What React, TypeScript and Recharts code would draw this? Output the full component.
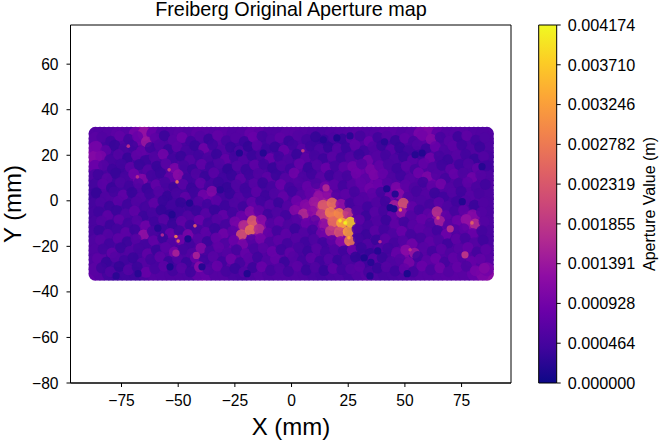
import React from 'react';
import { ComposedChart, Scatter, XAxis, YAxis, ReferenceArea } from 'recharts';

const W = 660;
const H = 441;
// grid and spot values are in units of 1e-5 m

const xTicks = [-75, -50, -25, 0, 25, 50, 75];
const yTicks = [-80, -60, -40, -20, 0, 20, 40, 60];
const barTicks = [0, 0.000464, 0.000928, 0.001391, 0.001855, 0.002319, 0.002782, 0.003246, 0.00371, 0.004174];
const plasmaStops = ['#0d0887', '#41049d', '#6a00a8', '#8f0da4', '#b12a90', '#cc4778', '#e16462', '#f2844b', '#fca636', '#fcce25', '#f0f921'];

const gridX = [-86.5, -82.6, -78.7, -74.7, -70.8, -66.9, -63, -59, -55.1, -51.2, -47.3, -43.3, -39.4, -35.5, -31.6, -27.6, -23.7, -19.8, -15.9, -11.9, -8, -4.1, -0.1, 3.8, 7.7, 11.6, 15.6, 19.5, 23.4, 27.3, 31.3, 35.2, 39.1, 43, 47, 50.9, 54.8, 58.7, 62.7, 66.6, 70.5, 74.4, 78.4, 82.3, 86.2];
const gridY = [29.4, 25.3, 21.2, 17.1, 13, 8.9, 4.8, 0.7, -3.4, -7.5, -11.6, -15.7, -19.8, -23.9, -28, -32];

const gridV = [
  [62, 58, 66, 72, 60, 128, 96, 64, 58, 70, 62, 66, 74, 60, 72, 64, 58, 68, 84, 60, 56, 62, 70, 64, 60, 58, 52, 66, 56, 70, 62, 58, 66, 72, 64, 60, 74, 120, 88, 66, 60, 68, 62, 58, 60],
  [70, 46, 52, 60, 64, 88, 58, 48, 54, 62, 50, 60, 56, 48, 66, 54, 44, 50, 58, 46, 60, 54, 50, 58, 46, 40, 44, 38, 52, 56, 60, 52, 58, 48, 64, 56, 60, 68, 62, 54, 58, 62, 56, 50, 54],
  [118, 60, 44, 38, 50, 56, 66, 52, 44, 50, 58, 46, 54, 62, 48, 56, 40, 52, 46, 44, 54, 48, 60, 52, 58, 46, 54, 50, 44, 52, 46, 56, 62, 50, 44, 48, 40, 54, 60, 72, 58, 64, 50, 60, 56],
  [104, 56, 50, 44, 58, 48, 42, 56, 50, 44, 60, 52, 48, 40, 56, 62, 50, 44, 54, 48, 42, 60, 46, 54, 48, 56, 62, 50, 58, 64, 72, 60, 56, 52, 48, 58, 54, 60, 56, 50, 66, 56, 48, 44, 46],
  [60, 48, 54, 40, 46, 52, 56, 44, 60, 76, 48, 54, 42, 50, 46, 38, 52, 60, 46, 54, 48, 44, 52, 66, 50, 56, 60, 52, 62, 70, 84, 72, 64, 58, 54, 60, 66, 58, 64, 60, 54, 50, 56, 52, 50],
  [50, 56, 42, 50, 60, 92, 58, 46, 66, 88, 52, 44, 56, 48, 54, 44, 50, 46, 58, 52, 66, 50, 58, 72, 56, 60, 64, 58, 54, 66, 82, 86, 70, 66, 58, 52, 60, 70, 88, 64, 58, 62, 72, 56, 60],
  [44, 60, 52, 44, 50, 56, 48, 54, 50, 62, 46, 58, 50, 42, 40, 52, 60, 48, 54, 46, 52, 64, 60, 54, 66, 100, 80, 62, 58, 64, 72, 76, 80, 74, 90, 70, 62, 58, 66, 60, 64, 56, 62, 58, 54],
  [40, 48, 56, 50, 44, 52, 46, 58, 50, 44, 54, 42, 62, 80, 52, 48, 44, 54, 46, 58, 50, 60, 54, 62, 78, 130, 150, 100, 60, 54, 62, 66, 58, 60, 70, 64, 56, 62, 52, 46, 50, 44, 54, 60, 56],
  [52, 46, 60, 44, 54, 48, 64, 50, 42, 40, 46, 52, 48, 58, 44, 52, 60, 50, 72, 56, 48, 54, 62, 100, 130, 170, 190, 150, 66, 50, 58, 52, 60, 56, 100, 90, 60, 54, 66, 60, 54, 58, 50, 44, 52],
  [46, 56, 50, 62, 48, 56, 44, 52, 38, 36, 44, 60, 50, 46, 62, 54, 50, 78, 100, 72, 56, 60, 58, 72, 90, 170, 210, 230, 200, 70, 56, 60, 54, 62, 58, 70, 64, 60, 110, 96, 62, 70, 110, 100, 58],
  [54, 44, 52, 48, 64, 72, 54, 46, 44, 50, 66, 48, 56, 70, 50, 62, 90, 150, 170, 110, 62, 54, 64, 56, 60, 92, 170, 200, 190, 60, 50, 54, 60, 56, 66, 54, 58, 62, 56, 72, 66, 84, 120, 84, 56],
  [48, 58, 46, 60, 54, 80, 60, 50, 46, 70, 44, 72, 58, 48, 66, 56, 72, 100, 120, 86, 58, 66, 54, 62, 50, 58, 84, 120, 110, 62, 48, 56, 50, 58, 52, 60, 54, 64, 60, 58, 54, 60, 66, 60, 50],
  [62, 50, 56, 44, 66, 58, 50, 56, 62, 48, 56, 52, 64, 60, 72, 82, 64, 56, 60, 70, 64, 58, 60, 54, 48, 56, 52, 60, 76, 56, 52, 48, 54, 64, 60, 74, 66, 58, 62, 56, 60, 54, 58, 64, 56],
  [56, 66, 48, 54, 60, 46, 62, 44, 58, 72, 54, 64, 50, 58, 54, 62, 70, 58, 66, 60, 54, 66, 56, 48, 54, 62, 58, 50, 62, 44, 42, 46, 54, 50, 86, 100, 60, 64, 54, 60, 66, 56, 60, 62, 58],
  [60, 50, 44, 62, 52, 44, 60, 50, 54, 46, 50, 56, 80, 52, 58, 66, 60, 70, 62, 54, 60, 52, 62, 58, 50, 56, 54, 48, 56, 50, 44, 48, 56, 60, 58, 64, 56, 60, 66, 70, 62, 66, 68, 62, 70],
  [74, 56, 38, 46, 44, 40, 66, 58, 62, 54, 60, 52, 96, 60, 66, 58, 48, 52, 66, 60, 56, 64, 58, 62, 54, 50, 46, 60, 52, 46, 72, 60, 52, 48, 56, 58, 62, 66, 60, 72, 66, 70, 64, 92, 120],
];

const fineX = [-84.5, -80.6, -76.7, -72.7, -68.8, -64.9, -61, -57, -53.1, -49.2, -45.3, -41.3, -37.4, -33.5, -29.6, -25.6, -21.7, -17.8, -13.9, -9.9, -6, -2.1, 1.9, 5.8, 9.7, 13.6, 17.6, 21.5, 25.4, 29.3, 33.3, 37.2, 41.1, 45, 49, 52.9, 56.8, 60.7, 64.7, 68.6, 72.5, 76.4, 80.4, 84.3];
const fineY = [27.3, 23.2, 19.1, 15, 10.9, 6.8, 2.8, -1.3, -5.4, -9.5, -13.6, -17.7, -21.8, -25.9, -30];
const fineRowShift = [0.9, -1.3, 0.4, 1.6, -0.8, 1.2, -1.6, 0.3, -0.5, 0.6, -0.4, 0.2, 1.4, -1.1, 0.7];
const fineColShift = [0.6, -1.1, 1.2, -0.3, 0.9, -1.4, 0.2, 1.3, -0.7, 0.5, -1.2, 1, -0.2, 1.4, -0.9, 0.3, -1.3, 0.7, 1.1, -0.5, 0.4, -1, 1.3, -0.4, 0.8, -0.6, 0.3, -0.2, 0.1, 1.2, -1.3, 0.5, 1, -0.8, 0.2, -1.2, 1.4, -0.3, 0.6, -1.1, 0.9, 1.3, -0.7, 0.4];

const fineV = [
  [58, 40, 74, 44, 82, 140, 70, 36, 66, 88, 42, 60, 34, 76, 48, 62, 38, 82, 44, 56, 72, 36, 60, 46, 30, 38, 52, 34, 70, 46, 84, 40, 62, 34, 74, 50, 92, 110, 48, 66, 38, 72, 44, 56],
  [92, 70, 34, 52, 44, 76, 40, 58, 36, 70, 48, 34, 90, 42, 60, 36, 56, 30, 68, 42, 34, 80, 44, 66, 40, 56, 32, 64, 38, 74, 44, 58, 36, 68, 34, 46, 60, 38, 82, 52, 70, 40, 58, 36],
  [100, 46, 62, 32, 72, 40, 58, 94, 44, 34, 62, 42, 52, 34, 74, 44, 60, 36, 50, 84, 42, 56, 34, 70, 46, 38, 66, 40, 58, 36, 92, 62, 44, 56, 36, 68, 42, 90, 46, 36, 64, 44, 34, 60],
  [62, 38, 44, 70, 36, 60, 34, 66, 100, 48, 36, 74, 40, 56, 30, 62, 36, 72, 44, 34, 58, 42, 78, 36, 60, 84, 46, 72, 90, 60, 100, 74, 52, 40, 70, 46, 76, 56, 40, 72, 42, 58, 74, 42],
  [40, 66, 34, 48, 88, 110, 44, 36, 72, 120, 42, 58, 34, 68, 42, 34, 72, 40, 58, 70, 36, 62, 90, 52, 40, 66, 38, 56, 46, 88, 66, 100, 78, 54, 42, 64, 88, 104, 60, 44, 78, 54, 90, 62],
  [68, 34, 54, 40, 60, 36, 76, 48, 38, 66, 34, 74, 48, 36, 30, 56, 40, 64, 36, 48, 84, 44, 58, 78, 54, 90, 70, 44, 62, 74, 90, 84, 62, 100, 70, 54, 40, 72, 94, 58, 46, 70, 52, 40],
  [32, 58, 44, 74, 34, 62, 40, 60, 32, 50, 72, 40, 90, 110, 46, 34, 62, 42, 70, 38, 56, 76, 42, 62, 76, 130, 120, 60, 70, 46, 60, 70, 44, 90, 120, 60, 46, 60, 36, 42, 60, 40, 64, 50],
  [56, 36, 68, 40, 58, 44, 72, 34, 44, 30, 36, 58, 42, 68, 38, 56, 40, 74, 42, 64, 36, 60, 88, 110, 140, 240, 270, 130, 46, 60, 42, 58, 40, 150, 230, 74, 56, 46, 70, 56, 40, 60, 36, 58],
  [40, 70, 36, 56, 72, 36, 48, 30, 28, 40, 58, 36, 64, 34, 74, 44, 82, 110, 72, 40, 56, 42, 110, 170, 120, 190, 290, 300, 190, 58, 36, 64, 46, 76, 130, 60, 44, 70, 180, 72, 46, 72, 110, 60],
  [62, 38, 72, 44, 60, 90, 40, 66, 34, 72, 40, 84, 44, 62, 46, 96, 170, 240, 120, 60, 76, 54, 62, 84, 70, 120, 260, 340, 380, 70, 46, 58, 36, 72, 44, 64, 80, 54, 150, 66, 86, 130, 170, 60],
  [36, 60, 44, 70, 38, 130, 50, 42, 84, 40, 100, 48, 70, 36, 90, 70, 230, 270, 170, 76, 44, 70, 36, 60, 44, 90, 190, 230, 330, 56, 36, 66, 44, 56, 84, 46, 70, 60, 42, 88, 60, 70, 84, 44],
  [66, 42, 70, 36, 60, 44, 74, 36, 60, 90, 44, 64, 36, 76, 54, 84, 100, 62, 96, 54, 70, 44, 62, 40, 56, 42, 70, 120, 280, 44, 58, 36, 70, 46, 60, 90, 46, 72, 56, 40, 72, 46, 60, 40],
  [44, 76, 36, 58, 46, 72, 36, 68, 100, 46, 58, 110, 48, 72, 60, 46, 78, 50, 66, 84, 40, 72, 50, 36, 66, 44, 58, 40, 88, 36, 32, 60, 44, 74, 120, 140, 64, 46, 70, 54, 66, 80, 46, 70],
  [70, 34, 60, 40, 34, 62, 44, 72, 36, 60, 36, 84, 42, 66, 42, 90, 44, 70, 40, 60, 78, 36, 62, 44, 72, 40, 64, 36, 52, 30, 40, 66, 36, 56, 60, 100, 44, 70, 86, 46, 74, 60, 80, 76],
  [40, 58, 30, 62, 36, 80, 48, 70, 44, 66, 40, 120, 56, 80, 46, 36, 62, 38, 84, 46, 60, 44, 70, 36, 58, 34, 76, 44, 64, 70, 46, 34, 62, 40, 76, 46, 84, 52, 90, 60, 78, 54, 96, 110],
];

const rimTopV = [60, 62, 68, 64, 92, 130, 80, 60, 62, 66, 62, 70, 66, 64, 68, 60, 62, 76, 70, 58, 58, 66, 66, 62, 58, 54, 58, 60, 62, 66, 60, 62, 68, 68, 62, 66, 96, 104, 74, 62, 64, 64, 60, 58];
const rimBottomV = [64, 46, 42, 44, 42, 54, 62, 60, 58, 58, 56, 74, 78, 62, 62, 52, 50, 58, 64, 58, 60, 60, 60, 58, 52, 48, 54, 56, 48, 60, 66, 56, 50, 52, 56, 60, 64, 64, 66, 68, 68, 66, 78, 104];
const rimLeftV = [66, 94, 110, 82, 56, 46, 42, 46, 48, 50, 50, 56, 58, 58, 66];
const rimRightV = [58, 56, 50, 48, 56, 58, 54, 54, 54, 56, 52, 52, 56, 64, 94];

const darkX = [-23, -12.5, -45, -31.5, -52.7, -59, -53.6, -39.5, -19.6, -67.7, -77.4, -45.7, 14, 20, 25.8, 41, 54.5, 57.6, 84, 42, 45.7, 43.5, 45.2, 75.3, 32, 35, 38, 51, 34.6, -51, -42, 70, 76.5, 15.2];
const darkY = [21, 21, -1, 4.8, -6, -12, -29, -29, -32, -32, -33, -16.7, 26.8, 27.6, 28.5, 25.9, 20.2, 21, 15, 5.3, 3, -3, -3.5, -0.4, -25, -27, -22, -32, -33, -23, -24, -12.3, -23.7, 5.7];
const darkV = [18, 20, 18, 24, 18, 22, 14, 20, 18, 22, 24, 14, 22, 16, 24, 24, 20, 18, 20, 16, 22, 14, 14, 18, 16, 22, 20, 14, 20, 150, 150, 170, 180, 160];

const sparkX = [-51, -50, -42.6, -50.5, -54, -68, 25.3, 25, 23.6, 21.4, 48, 79.6, 64.6, 52.3, -57, -72, 39, 5];
const sparkY = [-15.7, -17.7, -11, 8.3, 13.6, 10.5, -16.2, -19, -9.7, -8.8, -4, -9.7, -7.5, -21.5, -15, 24, -18, 22];
const sparkV = [270, 240, 230, 250, 190, 170, 330, 260, 410, 390, 270, 240, 220, 180, 160, 170, 170, 190];

const gridData = gridY.flatMap((y, r) => gridX.map((x, c) => ({ x, y, v: gridV[r][c] })));
const rimData = [
  ...fineX.map((x, c) => ({ x, y: gridY[0], v: rimTopV[c] })),
  ...fineX.map((x, c) => ({ x, y: gridY[gridY.length - 1], v: rimBottomV[c] })),
  ...fineY.map((y, r) => ({ x: gridX[0], y, v: rimLeftV[r] })),
  ...fineY.map((y, r) => ({ x: gridX[gridX.length - 1], y, v: rimRightV[r] })),
];
const fineData = fineY.flatMap((y, r) =>
  fineX.map((x, c) => ({ x: x + fineRowShift[r], y: y + fineColShift[c], v: fineV[r][c] })),
);
const darkData = darkX.map((x, i) => ({ x, y: darkY[i], v: darkV[i] }));
const sparkData = sparkX.map((x, i) => ({ x, y: sparkY[i], v: sparkV[i] }));
const barData = [{ a: 0, b: 0 }];

const hexToRgb = (h: string) => [1, 3, 5].map((i) => parseInt(h.slice(i, i + 2), 16));
const plasma = (t: number) => {
  const p = Math.max(0, Math.min(0.9999, t)) * (plasmaStops.length - 1);
  const i = Math.floor(p);
  const a = hexToRgb(plasmaStops[i]);
  const b = hexToRgb(plasmaStops[i + 1]);
  const c = a.map((n, k) => Math.round(n + (b[k] - n) * (p - i)));
  return `rgb(${c[0]},${c[1]},${c[2]})`;
};
const MAXV = 417.4;

const dot = (r: number, opacity = 1, blur = 0) => (props: any) => (
  <circle cx={props.cx} cy={props.cy} r={r} fill={plasma(props.payload.v / MAXV)} fillOpacity={opacity}
    style={blur ? { filter: `blur(${blur}px)` } : undefined} />
);
const noDot = () => <g />;

const font = '"Liberation Sans", Arial, sans-serif';
const tick = { fontSize: 15.6, fill: '#000', fontFamily: font };
const barTick = { fontSize: 16.2, fill: '#000', fontFamily: font };
const fmtMinus = (v: number) => String(v).replace('-', '\u2212');

export default function App() {
  return (
    <div style={{ position: 'absolute', left: 0, top: 0, width: W, height: H, background: '#fff' }}>
      <div style={{ position: 'absolute', left: 0, top: 0 }}>
        <ComposedChart width={W} height={H} margin={{ top: 25, right: 149, bottom: 28, left: 30.5 }}>
          <XAxis type="number" dataKey="x" domain={[-97.5, 96.8]} ticks={xTicks} allowDataOverflow
            height={30} tick={tick} tickSize={4} tickMargin={8} tickLine={{ stroke: '#000', strokeWidth: 1 }}
            axisLine={{ stroke: '#000', strokeWidth: 1 }} tickFormatter={fmtMinus} interval={0} />
          <YAxis type="number" dataKey="y" domain={[-80, 77.2]} ticks={yTicks} allowDataOverflow
            width={40} tick={tick} tickSize={4} tickMargin={8} tickLine={{ stroke: '#000', strokeWidth: 1 }}
            axisLine={{ stroke: '#000', strokeWidth: 1 }} tickFormatter={fmtMinus} interval={0} />
          <Scatter data={gridData} isAnimationActive={false} shape={dot(7)} />
          <Scatter data={rimData} isAnimationActive={false} shape={dot(7)} />
          <Scatter data={fineData} isAnimationActive={false} shape={dot(5.5, 0.85, 0.6)} />
          <Scatter data={darkData} isAnimationActive={false} shape={dot(3.6)} />
          <Scatter data={sparkData} isAnimationActive={false} shape={dot(1.8, 1, 0.4)} />
          <ReferenceArea x1={-97.5} x2={96.8} y1={-80} y2={77.2} fill="none" stroke="#000" strokeWidth={1} />
          <text x={291} y={16} textAnchor="middle" fontSize={19.8} fontFamily={font} fill="#000">Freiberg Original Aperture map</text>
          <text x={291} y={435} textAnchor="middle" fontSize={24} fontFamily={font} fill="#000">X (mm)</text>
          <text transform="translate(21,204) rotate(-90)" textAnchor="middle" fontSize={24} fontFamily={font} fill="#000">Y (mm)</text>
        </ComposedChart>
      </div>
      <div style={{ position: 'absolute', left: 0, top: 0 }}>
        <ComposedChart width={W} height={H} margin={{ top: 25, right: 19, bottom: 58, left: 538.7 }}>
          <defs>
            <linearGradient id="plasmaGrad" x1="0" y1="1" x2="0" y2="0">
              {plasmaStops.map((c, i) => (
                <stop key={c} offset={`${(i / (plasmaStops.length - 1)) * 100}%`} stopColor={c} />
              ))}
            </linearGradient>
          </defs>
          <XAxis type="number" dataKey="a" domain={[0, 1]} hide />
          <YAxis type="number" dataKey="b" orientation="right" domain={[0, barTicks[barTicks.length - 1]]} ticks={barTicks}
            width={84.3} tick={barTick} tickSize={4} tickMargin={7} tickLine={{ stroke: '#000', strokeWidth: 1 }}
            axisLine={false} tickFormatter={(v: number) => v.toFixed(6)} interval={0} />
          <Scatter data={barData} isAnimationActive={false} shape={noDot} />
          <ReferenceArea x1={0} x2={1} y1={0} y2={barTicks[barTicks.length - 1]} fill="url(#plasmaGrad)" fillOpacity={1} stroke="#000" strokeWidth={1} />
          <text transform="translate(655,204) rotate(-90)" textAnchor="middle" fontSize={16} fontFamily={font} fill="#000">Aperture Value (m)</text>
        </ComposedChart>
      </div>
    </div>
  );
}
